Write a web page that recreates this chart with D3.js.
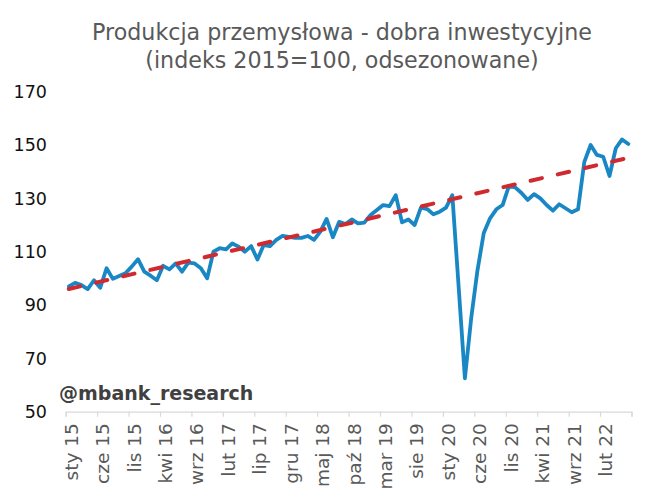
<!DOCTYPE html>
<html>
<head>
<meta charset="utf-8">
<script src="https://cdn.jsdelivr.net/npm/d3@7"></script>
<style>
  html, body { margin: 0; padding: 0; background: #fff; }
  svg { display: block; }
  text { font-family: "DejaVu Sans", Verdana, sans-serif; }
</style>
</head>
<body>
<svg id="chart" width="652" height="503"></svg>
<script>
// ---- data ----
const monthNames = ["sty","lut","mar","kwi","maj","cze","lip","sie","wrz","paź","lis","gru"];
const startYear = 15;
const nMonths = 90;
const categories = d3.range(nMonths).map(i => monthNames[i % 12] + " " + (startYear + Math.floor(i / 12)));

const values = [
  97.0, 98.3, 97.5, 96.0, 99.3, 96.5, 103.8, 99.8, 100.9, 101.9, 104.4, 107.2,
  102.5, 101.0, 99.3, 104.7, 103.4, 105.6, 102.5, 105.9, 105.6, 103.8, 100.0, 110.0,
  111.3, 110.9, 113.1, 111.9, 110.0, 112.1, 107.1, 112.5, 112.1, 114.4, 115.9, 115.6,
  115.2, 115.2, 115.9, 114.4, 117.5, 122.3, 115.4, 121.2, 120.4, 122.1, 120.6, 120.9,
  123.8, 125.6, 127.5, 127.1, 131.2, 121.0, 122.1, 120.0, 126.5, 126.0, 124.0, 125.0,
  126.5, 131.2, 97.0, 62.5, 85.0, 103.0, 117.0, 122.5, 125.9, 127.5, 134.6, 134.1,
  132.0, 129.4, 131.6, 130.0, 127.5, 125.4, 127.8, 126.3, 124.8, 125.9, 143.7, 150.0,
  146.3, 145.6, 138.4, 148.8, 152.1, 150.4
];

const trendIndex = [0, 89];
const trendValues = [96.0, 145.2];

const tickLabels = ["sty 15","cze 15","lis 15","kwi 16","wrz 16","lut 17","lip 17","gru 17","maj 18",
  "paź 18","mar 19","sie 19","sty 20","cze 20","lis 20","kwi 21","wrz 21","lut 22"];
const yTicks = [50, 70, 90, 110, 130, 150, 170];

const titleLines = ["Produkcja przemysłowa - dobra inwestycyjne", "(indeks 2015=100, odsezonowane)"];
const watermark = "@mbank_research";

// ---- chart ----
const svg = d3.select("#chart");

const x = d3.scaleLinear().domain([0, nMonths]).range([65.7, 631.5]);
const y = d3.scaleLinear().domain([50, 170]).range([411.7, 91.7]);

// title
svg.append("g").selectAll("text").data(titleLines).join("text")
  .attr("x", 342).attr("y", (d, i) => 39.5 + i * 28)
  .attr("text-anchor", "middle")
  .attr("font-size", "22.2px")
  .attr("fill", "#595959")
  .text(d => d);

// y labels
svg.append("g").selectAll("text").data(yTicks).join("text")
  .attr("x", 47).attr("y", d => y(d)).attr("dy", "0.36em")
  .attr("text-anchor", "end")
  .attr("font-size", "17.5px")
  .attr("fill", "#111")
  .text(d => d);

// x axis
const xAxis = d3.axisBottom(x)
  .tickValues(d3.range(0, nMonths + 1, 5))
  .tickSize(5)
  .tickPadding(0)
  .tickFormat(v => tickLabels[v / 5] || "");

const gx = svg.append("g").attr("transform", `translate(0,${y(50)})`).call(xAxis);
gx.select(".domain").attr("stroke", "#d9d9d9").attr("stroke-width", 1.2);
gx.selectAll(".tick line").attr("stroke", "#d9d9d9").attr("stroke-width", 1.2);
gx.selectAll(".tick text")
  .attr("transform", "rotate(-90)")
  .attr("x", -11.5).attr("y", 11.5).attr("dy", 0)
  .attr("text-anchor", "end")
  .attr("font-size", "18.5px")
  .attr("font-family", "DejaVu Sans, Verdana, sans-serif")
  .attr("fill", "#595959");

// watermark
svg.append("text")
  .attr("x", 59).attr("y", 400)
  .attr("font-size", "19px")
  .attr("font-weight", "bold")
  .attr("fill", "#404040")
  .text(watermark);

// main line
const line = d3.line()
  .x((d, i) => x(i + 0.5))
  .y(d => y(d));

svg.append("path")
  .datum(values)
  .attr("d", line)
  .attr("fill", "none")
  .attr("stroke", "#1a87c5")
  .attr("stroke-width", 3.8)
  .attr("stroke-linejoin", "round")
  .attr("stroke-linecap", "round");

// trend line
const trendLine = d3.line()
  .x(d => x(d[0] + 0.5))
  .y(d => y(d[1]));

svg.append("path")
  .datum(trendIndex.map((t, i) => [t, trendValues[i]]))
  .attr("d", trendLine)
  .attr("fill", "none")
  .attr("stroke", "#cf2a2f")
  .attr("stroke-width", 4)
  .attr("stroke-linecap", "round")
  .attr("stroke-dasharray", "11.6 16.3");
</script>
</body>
</html>
